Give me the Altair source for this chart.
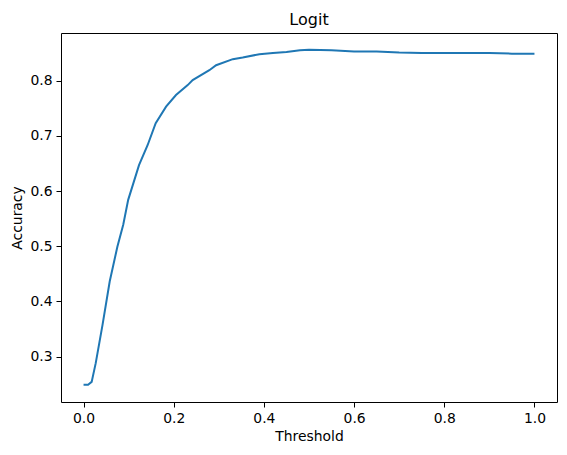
import altair as alt
import pandas as pd

thresholds = [0.0, 0.01, 0.018, 0.027, 0.042, 0.058, 0.075, 0.088, 0.099, 0.123,
              0.142, 0.160, 0.183, 0.205, 0.231, 0.242, 0.279, 0.294, 0.331, 0.353,
              0.39, 0.42, 0.45, 0.48, 0.50, 0.55, 0.60, 0.65, 0.70, 0.75, 0.80,
              0.85, 0.90, 0.95, 1.0]
accuracy = [0.249, 0.249, 0.254, 0.288, 0.357, 0.436, 0.499, 0.539, 0.584, 0.647,
            0.683, 0.723, 0.753, 0.774, 0.792, 0.801, 0.819, 0.828, 0.839, 0.842,
            0.848, 0.850, 0.852, 0.855, 0.856, 0.855, 0.853, 0.853, 0.851, 0.850,
            0.850, 0.850, 0.850, 0.849, 0.849]

df = pd.DataFrame({"Threshold": thresholds, "Accuracy": accuracy})

chart = alt.Chart(df).mark_line(color="#1f77b4", strokeWidth=2).encode(
    x=alt.X("Threshold:Q",
            scale=alt.Scale(domain=[-0.05, 1.05], nice=False, zero=False),
            axis=alt.Axis(values=[0.0, 0.2, 0.4, 0.6, 0.8, 1.0], format=".1f",
                          title="Threshold")),
    y=alt.Y("Accuracy:Q",
            scale=alt.Scale(domain=[0.2176, 0.8864], nice=False, zero=False),
            axis=alt.Axis(values=[0.3, 0.4, 0.5, 0.6, 0.7, 0.8], format=".1f",
                          title="Accuracy")),
).properties(
    width=496, height=369,
    title=alt.Title("Logit", fontSize=16, font="DejaVu Sans", fontWeight="normal",
                    color="black", offset=5),
    autosize=alt.AutoSizeParams(type="none"),
    padding={"left": 53, "top": 25, "right": 2, "bottom": 45},
).configure_view(
    stroke="black", strokeWidth=1
).configure_axis(
    grid=False, domain=False, tickColor="black", tickSize=5, tickWidth=1,
    labelFont="DejaVu Sans", labelFontSize=13.9, labelColor="black",
    titleFont="DejaVu Sans", titleFontSize=13.9, titleFontWeight="normal",
    titleColor="black", labelPadding=4,
).configure_axisX(titlePadding=5).configure_axisY(titlePadding=5)

chart.save("out.html", embed_options={"renderer": "svg", "actions": False})
